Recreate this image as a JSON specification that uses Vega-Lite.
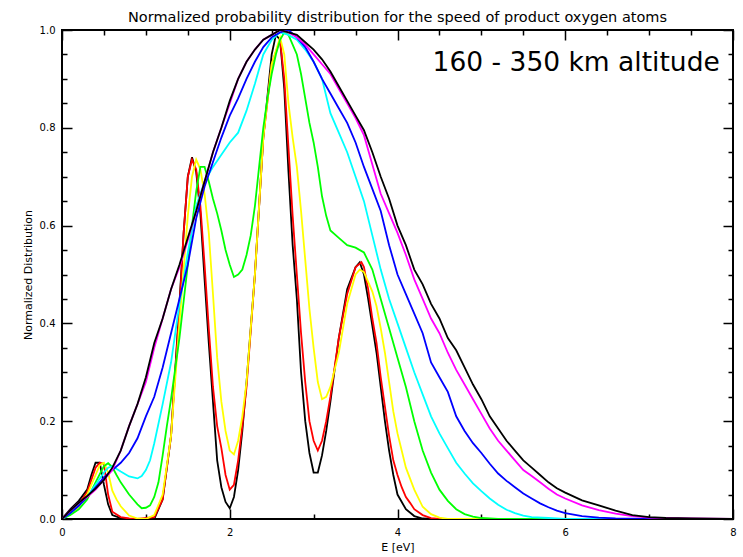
{
"$schema": "https://vega.github.io/schema/vega-lite/v6.json",
"width": 671, "height": 489,
"autosize": {"type": "none"},
"padding": {"left": 62, "top": 30, "right": 10, "bottom": 38},
"background": "white",
"title": {"text": "Normalized probability distribution for the speed of product oxygen atoms", "font": "DejaVu Sans", "fontSize": 14.5, "fontWeight": "normal", "offset": 0, "anchor": "middle", "color": "black"},
"config": {"view": {"stroke": "black", "strokeWidth": 2},
  "axis": {"labelFont": "DejaVu Sans", "labelFontSize": 10, "labelColor": "black", "titleFont": "DejaVu Sans", "titleFontSize": 11, "titleFontWeight": "normal", "titleColor": "black", "tickColor": "black", "tickWidth": 1.5, "grid": false, "domain": false}},
"resolve": {"axis": {"x": "independent", "y": "independent"}},
"layer": [
{
"data": {"values": [
{"s":"a","x":0,"y":0},{"s":"a","x":0.1,"y":0.02},{"s":"a","x":0.2,"y":0.037},{"s":"a","x":0.3,"y":0.06},{"s":"a","x":0.35,"y":0.09},{"s":"a","x":0.4,"y":0.115},{"s":"a","x":0.45,"y":0.115},{"s":"a","x":0.5,"y":0.07},{"s":"a","x":0.55,"y":0.03},{"s":"a","x":0.6,"y":0.008},{"s":"a","x":0.7,"y":0.002},{"s":"a","x":0.8,"y":0},{"s":"a","x":1.1,"y":0},{"s":"a","x":1.2,"y":0.04},{"s":"a","x":1.3,"y":0.17},{"s":"a","x":1.4,"y":0.44},{"s":"a","x":1.45,"y":0.585},{"s":"a","x":1.5,"y":0.7},{"s":"a","x":1.55,"y":0.74},{"s":"a","x":1.6,"y":0.71},{"s":"a","x":1.65,"y":0.625},{"s":"a","x":1.7,"y":0.49},{"s":"a","x":1.75,"y":0.36},{"s":"a","x":1.8,"y":0.24},{"s":"a","x":1.85,"y":0.12},{"s":"a","x":1.9,"y":0.065},{"s":"a","x":1.95,"y":0.035},{"s":"a","x":2.0,"y":0.022},{"s":"a","x":2.05,"y":0.045},{"s":"a","x":2.1,"y":0.1},{"s":"a","x":2.15,"y":0.18},{"s":"a","x":2.2,"y":0.28},{"s":"a","x":2.3,"y":0.5},{"s":"a","x":2.4,"y":0.78},{"s":"a","x":2.5,"y":0.95},{"s":"a","x":2.55,"y":0.99},{"s":"a","x":2.6,"y":0.98},{"s":"a","x":2.65,"y":0.88},{"s":"a","x":2.7,"y":0.71},{"s":"a","x":2.75,"y":0.56},{"s":"a","x":2.8,"y":0.45},{"s":"a","x":2.85,"y":0.3},{"s":"a","x":2.9,"y":0.2},{"s":"a","x":2.95,"y":0.135},{"s":"a","x":3.0,"y":0.095},{"s":"a","x":3.05,"y":0.095},{"s":"a","x":3.1,"y":0.13},{"s":"a","x":3.15,"y":0.18},{"s":"a","x":3.2,"y":0.24},{"s":"a","x":3.3,"y":0.37},{"s":"a","x":3.4,"y":0.47},{"s":"a","x":3.5,"y":0.515},{"s":"a","x":3.55,"y":0.525},{"s":"a","x":3.6,"y":0.5},{"s":"a","x":3.65,"y":0.45},{"s":"a","x":3.7,"y":0.395},{"s":"a","x":3.75,"y":0.34},{"s":"a","x":3.8,"y":0.27},{"s":"a","x":3.85,"y":0.2},{"s":"a","x":3.9,"y":0.14},{"s":"a","x":3.95,"y":0.09},{"s":"a","x":4.0,"y":0.05},{"s":"a","x":4.1,"y":0.02},{"s":"a","x":4.2,"y":0.006},{"s":"a","x":4.3,"y":0.001},{"s":"a","x":4.4,"y":0},{"s":"a","x":8,"y":0},
{"s":"b","x":0,"y":0},{"s":"b","x":0.1,"y":0.015},{"s":"b","x":0.2,"y":0.03},{"s":"b","x":0.3,"y":0.055},{"s":"b","x":0.35,"y":0.08},{"s":"b","x":0.4,"y":0.105},{"s":"b","x":0.45,"y":0.115},{"s":"b","x":0.5,"y":0.113},{"s":"b","x":0.55,"y":0.05},{"s":"b","x":0.6,"y":0.015},{"s":"b","x":0.7,"y":0.004},{"s":"b","x":0.8,"y":0.001},{"s":"b","x":0.9,"y":0},{"s":"b","x":1.1,"y":0.004},{"s":"b","x":1.2,"y":0.04},{"s":"b","x":1.3,"y":0.17},{"s":"b","x":1.4,"y":0.43},{"s":"b","x":1.45,"y":0.585},{"s":"b","x":1.5,"y":0.7},{"s":"b","x":1.55,"y":0.735},{"s":"b","x":1.6,"y":0.715},{"s":"b","x":1.65,"y":0.64},{"s":"b","x":1.7,"y":0.52},{"s":"b","x":1.75,"y":0.39},{"s":"b","x":1.8,"y":0.27},{"s":"b","x":1.85,"y":0.19},{"s":"b","x":1.9,"y":0.145},{"s":"b","x":1.95,"y":0.09},{"s":"b","x":2.0,"y":0.06},{"s":"b","x":2.05,"y":0.07},{"s":"b","x":2.1,"y":0.12},{"s":"b","x":2.15,"y":0.19},{"s":"b","x":2.2,"y":0.27},{"s":"b","x":2.3,"y":0.5},{"s":"b","x":2.4,"y":0.78},{"s":"b","x":2.5,"y":0.93},{"s":"b","x":2.6,"y":0.98},{"s":"b","x":2.65,"y":0.9},{"s":"b","x":2.7,"y":0.76},{"s":"b","x":2.75,"y":0.62},{"s":"b","x":2.8,"y":0.5},{"s":"b","x":2.85,"y":0.38},{"s":"b","x":2.9,"y":0.28},{"s":"b","x":2.95,"y":0.2},{"s":"b","x":3.0,"y":0.16},{"s":"b","x":3.05,"y":0.14},{"s":"b","x":3.1,"y":0.16},{"s":"b","x":3.15,"y":0.2},{"s":"b","x":3.2,"y":0.25},{"s":"b","x":3.3,"y":0.37},{"s":"b","x":3.4,"y":0.46},{"s":"b","x":3.5,"y":0.515},{"s":"b","x":3.57,"y":0.525},{"s":"b","x":3.6,"y":0.515},{"s":"b","x":3.65,"y":0.47},{"s":"b","x":3.7,"y":0.41},{"s":"b","x":3.75,"y":0.36},{"s":"b","x":3.8,"y":0.29},{"s":"b","x":3.85,"y":0.23},{"s":"b","x":3.9,"y":0.17},{"s":"b","x":3.95,"y":0.12},{"s":"b","x":4.0,"y":0.09},{"s":"b","x":4.05,"y":0.065},{"s":"b","x":4.1,"y":0.045},{"s":"b","x":4.15,"y":0.033},{"s":"b","x":4.2,"y":0.02},{"s":"b","x":4.3,"y":0.008},{"s":"b","x":4.4,"y":0.002},{"s":"b","x":4.5,"y":0},{"s":"b","x":8,"y":0},
{"s":"c","x":0,"y":0},{"s":"c","x":0.1,"y":0.01},{"s":"c","x":0.2,"y":0.025},{"s":"c","x":0.3,"y":0.05},{"s":"c","x":0.4,"y":0.09},{"s":"c","x":0.45,"y":0.11},{"s":"c","x":0.5,"y":0.115},{"s":"c","x":0.55,"y":0.095},{"s":"c","x":0.6,"y":0.058},{"s":"c","x":0.65,"y":0.04},{"s":"c","x":0.7,"y":0.026},{"s":"c","x":0.8,"y":0.007},{"s":"c","x":0.9,"y":0.001},{"s":"c","x":1.0,"y":0},{"s":"c","x":1.1,"y":0.008},{"s":"c","x":1.2,"y":0.05},{"s":"c","x":1.3,"y":0.17},{"s":"c","x":1.4,"y":0.4},{"s":"c","x":1.5,"y":0.62},{"s":"c","x":1.55,"y":0.7},{"s":"c","x":1.6,"y":0.735},{"s":"c","x":1.65,"y":0.715},{"s":"c","x":1.7,"y":0.665},{"s":"c","x":1.75,"y":0.585},{"s":"c","x":1.8,"y":0.46},{"s":"c","x":1.85,"y":0.33},{"s":"c","x":1.9,"y":0.24},{"s":"c","x":1.95,"y":0.18},{"s":"c","x":2.0,"y":0.14},{"s":"c","x":2.05,"y":0.132},{"s":"c","x":2.1,"y":0.16},{"s":"c","x":2.15,"y":0.21},{"s":"c","x":2.2,"y":0.28},{"s":"c","x":2.3,"y":0.5},{"s":"c","x":2.4,"y":0.78},{"s":"c","x":2.5,"y":0.93},{"s":"c","x":2.6,"y":0.985},{"s":"c","x":2.65,"y":0.95},{"s":"c","x":2.7,"y":0.85},{"s":"c","x":2.75,"y":0.78},{"s":"c","x":2.8,"y":0.72},{"s":"c","x":2.85,"y":0.63},{"s":"c","x":2.9,"y":0.53},{"s":"c","x":2.95,"y":0.43},{"s":"c","x":3.0,"y":0.35},{"s":"c","x":3.05,"y":0.28},{"s":"c","x":3.1,"y":0.245},{"s":"c","x":3.15,"y":0.25},{"s":"c","x":3.2,"y":0.27},{"s":"c","x":3.3,"y":0.34},{"s":"c","x":3.4,"y":0.44},{"s":"c","x":3.5,"y":0.5},{"s":"c","x":3.55,"y":0.51},{"s":"c","x":3.6,"y":0.505},{"s":"c","x":3.7,"y":0.465},{"s":"c","x":3.75,"y":0.435},{"s":"c","x":3.8,"y":0.39},{"s":"c","x":3.85,"y":0.34},{"s":"c","x":3.9,"y":0.28},{"s":"c","x":3.95,"y":0.22},{"s":"c","x":4.0,"y":0.175},{"s":"c","x":4.05,"y":0.14},{"s":"c","x":4.1,"y":0.105},{"s":"c","x":4.2,"y":0.06},{"s":"c","x":4.3,"y":0.025},{"s":"c","x":4.4,"y":0.01},{"s":"c","x":4.5,"y":0.003},{"s":"c","x":4.6,"y":0},{"s":"c","x":8,"y":0},
{"s":"d","x":0,"y":0},{"s":"d","x":0.1,"y":0.008},{"s":"d","x":0.2,"y":0.02},{"s":"d","x":0.3,"y":0.04},{"s":"d","x":0.4,"y":0.075},{"s":"d","x":0.5,"y":0.108},{"s":"d","x":0.55,"y":0.114},{"s":"d","x":0.6,"y":0.106},{"s":"d","x":0.65,"y":0.09},{"s":"d","x":0.7,"y":0.075},{"s":"d","x":0.8,"y":0.05},{"s":"d","x":0.9,"y":0.03},{"s":"d","x":0.95,"y":0.022},{"s":"d","x":1.0,"y":0.023},{"s":"d","x":1.05,"y":0.028},{"s":"d","x":1.1,"y":0.045},{"s":"d","x":1.15,"y":0.075},{"s":"d","x":1.2,"y":0.13},{"s":"d","x":1.25,"y":0.19},{"s":"d","x":1.3,"y":0.245},{"s":"d","x":1.4,"y":0.37},{"s":"d","x":1.5,"y":0.52},{"s":"d","x":1.55,"y":0.6},{"s":"d","x":1.6,"y":0.67},{"s":"d","x":1.65,"y":0.72},{"s":"d","x":1.7,"y":0.72},{"s":"d","x":1.75,"y":0.69},{"s":"d","x":1.8,"y":0.655},{"s":"d","x":1.85,"y":0.625},{"s":"d","x":1.9,"y":0.59},{"s":"d","x":1.95,"y":0.55},{"s":"d","x":2.0,"y":0.52},{"s":"d","x":2.05,"y":0.495},{"s":"d","x":2.1,"y":0.5},{"s":"d","x":2.15,"y":0.51},{"s":"d","x":2.2,"y":0.54},{"s":"d","x":2.25,"y":0.58},{"s":"d","x":2.3,"y":0.64},{"s":"d","x":2.35,"y":0.72},{"s":"d","x":2.4,"y":0.8},{"s":"d","x":2.45,"y":0.86},{"s":"d","x":2.5,"y":0.91},{"s":"d","x":2.55,"y":0.95},{"s":"d","x":2.6,"y":0.98},{"s":"d","x":2.65,"y":0.995},{"s":"d","x":2.7,"y":0.99},{"s":"d","x":2.75,"y":0.97},{"s":"d","x":2.8,"y":0.95},{"s":"d","x":2.85,"y":0.91},{"s":"d","x":2.9,"y":0.86},{"s":"d","x":2.95,"y":0.81},{"s":"d","x":3.0,"y":0.77},{"s":"d","x":3.05,"y":0.72},{"s":"d","x":3.1,"y":0.66},{"s":"d","x":3.15,"y":0.62},{"s":"d","x":3.2,"y":0.59},{"s":"d","x":3.3,"y":0.575},{"s":"d","x":3.4,"y":0.56},{"s":"d","x":3.5,"y":0.555},{"s":"d","x":3.6,"y":0.545},{"s":"d","x":3.7,"y":0.51},{"s":"d","x":3.75,"y":0.48},{"s":"d","x":3.8,"y":0.45},{"s":"d","x":3.9,"y":0.39},{"s":"d","x":4.0,"y":0.33},{"s":"d","x":4.1,"y":0.27},{"s":"d","x":4.2,"y":0.2},{"s":"d","x":4.3,"y":0.14},{"s":"d","x":4.4,"y":0.095},{"s":"d","x":4.5,"y":0.06},{"s":"d","x":4.6,"y":0.037},{"s":"d","x":4.7,"y":0.02},{"s":"d","x":4.8,"y":0.01},{"s":"d","x":4.9,"y":0.005},{"s":"d","x":5.0,"y":0.002},{"s":"d","x":5.2,"y":0},{"s":"d","x":8,"y":0},
{"s":"e","x":0,"y":0},{"s":"e","x":0.1,"y":0.012},{"s":"e","x":0.2,"y":0.028},{"s":"e","x":0.3,"y":0.045},{"s":"e","x":0.4,"y":0.07},{"s":"e","x":0.5,"y":0.095},{"s":"e","x":0.55,"y":0.105},{"s":"e","x":0.6,"y":0.108},{"s":"e","x":0.7,"y":0.097},{"s":"e","x":0.8,"y":0.087},{"s":"e","x":0.9,"y":0.083},{"s":"e","x":0.95,"y":0.088},{"s":"e","x":1.0,"y":0.1},{"s":"e","x":1.05,"y":0.12},{"s":"e","x":1.1,"y":0.155},{"s":"e","x":1.2,"y":0.235},{"s":"e","x":1.3,"y":0.32},{"s":"e","x":1.4,"y":0.44},{"s":"e","x":1.45,"y":0.49},{"s":"e","x":1.5,"y":0.545},{"s":"e","x":1.55,"y":0.59},{"s":"e","x":1.6,"y":0.64},{"s":"e","x":1.7,"y":0.69},{"s":"e","x":1.8,"y":0.72},{"s":"e","x":1.9,"y":0.745},{"s":"e","x":2.0,"y":0.77},{"s":"e","x":2.1,"y":0.79},{"s":"e","x":2.2,"y":0.835},{"s":"e","x":2.3,"y":0.89},{"s":"e","x":2.4,"y":0.95},{"s":"e","x":2.5,"y":0.98},{"s":"e","x":2.6,"y":0.995},{"s":"e","x":2.7,"y":0.99},{"s":"e","x":2.8,"y":0.98},{"s":"e","x":2.9,"y":0.96},{"s":"e","x":3.0,"y":0.935},{"s":"e","x":3.1,"y":0.9},{"s":"e","x":3.2,"y":0.83},{"s":"e","x":3.3,"y":0.79},{"s":"e","x":3.4,"y":0.75},{"s":"e","x":3.5,"y":0.7},{"s":"e","x":3.6,"y":0.65},{"s":"e","x":3.7,"y":0.58},{"s":"e","x":3.8,"y":0.51},{"s":"e","x":3.9,"y":0.45},{"s":"e","x":4.0,"y":0.4},{"s":"e","x":4.1,"y":0.35},{"s":"e","x":4.2,"y":0.3},{"s":"e","x":4.3,"y":0.255},{"s":"e","x":4.4,"y":0.21},{"s":"e","x":4.5,"y":0.175},{"s":"e","x":4.6,"y":0.145},{"s":"e","x":4.7,"y":0.115},{"s":"e","x":4.8,"y":0.093},{"s":"e","x":4.9,"y":0.073},{"s":"e","x":5.0,"y":0.057},{"s":"e","x":5.1,"y":0.042},{"s":"e","x":5.2,"y":0.029},{"s":"e","x":5.3,"y":0.019},{"s":"e","x":5.4,"y":0.012},{"s":"e","x":5.5,"y":0.007},{"s":"e","x":5.6,"y":0.004},{"s":"e","x":5.8,"y":0.002},{"s":"e","x":6.0,"y":0},{"s":"e","x":8,"y":0},
{"s":"f","x":0,"y":0},{"s":"f","x":0.1,"y":0.012},{"s":"f","x":0.2,"y":0.027},{"s":"f","x":0.3,"y":0.045},{"s":"f","x":0.4,"y":0.065},{"s":"f","x":0.5,"y":0.085},{"s":"f","x":0.6,"y":0.1},{"s":"f","x":0.7,"y":0.115},{"s":"f","x":0.8,"y":0.135},{"s":"f","x":0.9,"y":0.165},{"s":"f","x":1.0,"y":0.21},{"s":"f","x":1.1,"y":0.25},{"s":"f","x":1.2,"y":0.31},{"s":"f","x":1.3,"y":0.38},{"s":"f","x":1.4,"y":0.45},{"s":"f","x":1.5,"y":0.52},{"s":"f","x":1.6,"y":0.615},{"s":"f","x":1.7,"y":0.68},{"s":"f","x":1.8,"y":0.73},{"s":"f","x":1.9,"y":0.78},{"s":"f","x":2.0,"y":0.825},{"s":"f","x":2.1,"y":0.86},{"s":"f","x":2.2,"y":0.9},{"s":"f","x":2.3,"y":0.935},{"s":"f","x":2.4,"y":0.965},{"s":"f","x":2.5,"y":0.985},{"s":"f","x":2.6,"y":0.995},{"s":"f","x":2.7,"y":1.0},{"s":"f","x":2.8,"y":0.985},{"s":"f","x":2.9,"y":0.965},{"s":"f","x":3.0,"y":0.935},{"s":"f","x":3.1,"y":0.9},{"s":"f","x":3.2,"y":0.87},{"s":"f","x":3.3,"y":0.84},{"s":"f","x":3.4,"y":0.81},{"s":"f","x":3.5,"y":0.77},{"s":"f","x":3.6,"y":0.72},{"s":"f","x":3.7,"y":0.675},{"s":"f","x":3.8,"y":0.63},{"s":"f","x":3.9,"y":0.56},{"s":"f","x":4.0,"y":0.5},{"s":"f","x":4.1,"y":0.46},{"s":"f","x":4.2,"y":0.42},{"s":"f","x":4.3,"y":0.38},{"s":"f","x":4.4,"y":0.32},{"s":"f","x":4.5,"y":0.29},{"s":"f","x":4.6,"y":0.26},{"s":"f","x":4.7,"y":0.21},{"s":"f","x":4.8,"y":0.18},{"s":"f","x":4.9,"y":0.155},{"s":"f","x":5.0,"y":0.135},{"s":"f","x":5.1,"y":0.113},{"s":"f","x":5.2,"y":0.093},{"s":"f","x":5.3,"y":0.078},{"s":"f","x":5.4,"y":0.065},{"s":"f","x":5.5,"y":0.052},{"s":"f","x":5.6,"y":0.042},{"s":"f","x":5.7,"y":0.032},{"s":"f","x":5.8,"y":0.024},{"s":"f","x":5.9,"y":0.017},{"s":"f","x":6.0,"y":0.012},{"s":"f","x":6.2,"y":0.006},{"s":"f","x":6.4,"y":0.003},{"s":"f","x":6.6,"y":0.001},{"s":"f","x":7.0,"y":0},{"s":"f","x":8,"y":0},
{"s":"g","x":0,"y":0},{"s":"g","x":0.1,"y":0.018},{"s":"g","x":0.2,"y":0.033},{"s":"g","x":0.3,"y":0.045},{"s":"g","x":0.4,"y":0.06},{"s":"g","x":0.5,"y":0.08},{"s":"g","x":0.6,"y":0.1},{"s":"g","x":0.7,"y":0.14},{"s":"g","x":0.8,"y":0.19},{"s":"g","x":0.9,"y":0.235},{"s":"g","x":1.0,"y":0.28},{"s":"g","x":1.1,"y":0.35},{"s":"g","x":1.2,"y":0.41},{"s":"g","x":1.3,"y":0.47},{"s":"g","x":1.4,"y":0.515},{"s":"g","x":1.5,"y":0.57},{"s":"g","x":1.6,"y":0.63},{"s":"g","x":1.7,"y":0.69},{"s":"g","x":1.8,"y":0.75},{"s":"g","x":1.9,"y":0.8},{"s":"g","x":2.0,"y":0.85},{"s":"g","x":2.1,"y":0.9},{"s":"g","x":2.2,"y":0.935},{"s":"g","x":2.3,"y":0.96},{"s":"g","x":2.4,"y":0.98},{"s":"g","x":2.5,"y":0.99},{"s":"g","x":2.6,"y":1.0},{"s":"g","x":2.7,"y":0.995},{"s":"g","x":2.8,"y":0.985},{"s":"g","x":2.9,"y":0.97},{"s":"g","x":3.0,"y":0.95},{"s":"g","x":3.1,"y":0.93},{"s":"g","x":3.2,"y":0.91},{"s":"g","x":3.3,"y":0.88},{"s":"g","x":3.4,"y":0.85},{"s":"g","x":3.5,"y":0.82},{"s":"g","x":3.6,"y":0.785},{"s":"g","x":3.7,"y":0.725},{"s":"g","x":3.8,"y":0.665},{"s":"g","x":3.9,"y":0.625},{"s":"g","x":4.0,"y":0.585},{"s":"g","x":4.1,"y":0.54},{"s":"g","x":4.2,"y":0.49},{"s":"g","x":4.3,"y":0.45},{"s":"g","x":4.4,"y":0.41},{"s":"g","x":4.5,"y":0.38},{"s":"g","x":4.6,"y":0.34},{"s":"g","x":4.7,"y":0.305},{"s":"g","x":4.8,"y":0.275},{"s":"g","x":4.9,"y":0.245},{"s":"g","x":5.0,"y":0.215},{"s":"g","x":5.1,"y":0.185},{"s":"g","x":5.2,"y":0.16},{"s":"g","x":5.3,"y":0.14},{"s":"g","x":5.4,"y":0.12},{"s":"g","x":5.5,"y":0.1},{"s":"g","x":5.6,"y":0.088},{"s":"g","x":5.7,"y":0.075},{"s":"g","x":5.8,"y":0.062},{"s":"g","x":5.9,"y":0.05},{"s":"g","x":6.0,"y":0.042},{"s":"g","x":6.2,"y":0.028},{"s":"g","x":6.4,"y":0.018},{"s":"g","x":6.6,"y":0.011},{"s":"g","x":6.8,"y":0.006},{"s":"g","x":7.0,"y":0.003},{"s":"g","x":7.2,"y":0.002},{"s":"g","x":7.5,"y":0.001},{"s":"g","x":8,"y":0},
{"s":"h","x":0,"y":0},{"s":"h","x":0.1,"y":0.018},{"s":"h","x":0.2,"y":0.033},{"s":"h","x":0.3,"y":0.047},{"s":"h","x":0.4,"y":0.062},{"s":"h","x":0.5,"y":0.08},{"s":"h","x":0.6,"y":0.105},{"s":"h","x":0.7,"y":0.14},{"s":"h","x":0.8,"y":0.19},{"s":"h","x":0.9,"y":0.235},{"s":"h","x":1.0,"y":0.29},{"s":"h","x":1.1,"y":0.36},{"s":"h","x":1.2,"y":0.41},{"s":"h","x":1.3,"y":0.47},{"s":"h","x":1.4,"y":0.52},{"s":"h","x":1.5,"y":0.575},{"s":"h","x":1.6,"y":0.63},{"s":"h","x":1.7,"y":0.69},{"s":"h","x":1.8,"y":0.75},{"s":"h","x":1.9,"y":0.8},{"s":"h","x":2.0,"y":0.855},{"s":"h","x":2.1,"y":0.9},{"s":"h","x":2.2,"y":0.935},{"s":"h","x":2.3,"y":0.96},{"s":"h","x":2.4,"y":0.98},{"s":"h","x":2.5,"y":0.99},{"s":"h","x":2.6,"y":1.0},{"s":"h","x":2.7,"y":0.995},{"s":"h","x":2.8,"y":0.99},{"s":"h","x":2.9,"y":0.975},{"s":"h","x":3.0,"y":0.96},{"s":"h","x":3.1,"y":0.94},{"s":"h","x":3.2,"y":0.915},{"s":"h","x":3.3,"y":0.885},{"s":"h","x":3.4,"y":0.855},{"s":"h","x":3.5,"y":0.825},{"s":"h","x":3.6,"y":0.795},{"s":"h","x":3.7,"y":0.75},{"s":"h","x":3.8,"y":0.7},{"s":"h","x":3.9,"y":0.655},{"s":"h","x":4.0,"y":0.6},{"s":"h","x":4.1,"y":0.56},{"s":"h","x":4.2,"y":0.51},{"s":"h","x":4.3,"y":0.48},{"s":"h","x":4.4,"y":0.44},{"s":"h","x":4.5,"y":0.41},{"s":"h","x":4.6,"y":0.37},{"s":"h","x":4.7,"y":0.345},{"s":"h","x":4.8,"y":0.31},{"s":"h","x":4.9,"y":0.275},{"s":"h","x":5.0,"y":0.245},{"s":"h","x":5.1,"y":0.21},{"s":"h","x":5.2,"y":0.185},{"s":"h","x":5.3,"y":0.16},{"s":"h","x":5.4,"y":0.14},{"s":"h","x":5.5,"y":0.12},{"s":"h","x":5.6,"y":0.105},{"s":"h","x":5.7,"y":0.09},{"s":"h","x":5.8,"y":0.075},{"s":"h","x":5.9,"y":0.063},{"s":"h","x":6.0,"y":0.054},{"s":"h","x":6.2,"y":0.038},{"s":"h","x":6.4,"y":0.028},{"s":"h","x":6.6,"y":0.017},{"s":"h","x":6.8,"y":0.008},{"s":"h","x":7.0,"y":0.004},{"s":"h","x":7.2,"y":0.002},{"s":"h","x":7.5,"y":0.001},{"s":"h","x":8,"y":0}
]},
"mark": {"type": "line", "strokeWidth": 1.8, "clip": true},
"encoding": {
 "x": {"field": "x", "type": "quantitative", "scale": {"domain": [0, 8], "nice": false, "zero": false},
   "axis": {"orient": "bottom", "title": "E [eV]", "values": [0,0.5,1,1.5,2,2.5,3,3.5,4,4.5,5,5.5,6,6.5,7,7.5,8], "format": "d", "labelExpr": "datum.value % 2 == 0 ? datum.label : ''", "tickSize": {"condition": {"test": "datum.value % 2 == 0", "value": -10}, "value": -5}, "labelPadding": 18, "titlePadding": 4, "labelFlush": false}},
 "y": {"field": "y", "type": "quantitative", "scale": {"domain": [0, 1], "nice": false},
   "axis": {"orient": "left", "title": "Normalized Distribution", "values": [0,0.05,0.1,0.15,0.2,0.25,0.3,0.35,0.4,0.45,0.5,0.55,0.6,0.65,0.7,0.75,0.8,0.85,0.9,0.95,1], "format": ".1f", "labelExpr": "abs(datum.value*5 - round(datum.value*5)) < 0.001 ? datum.label : ''", "tickSize": {"condition": {"test": "abs(datum.value*5 - round(datum.value*5)) < 0.001", "value": -10}, "value": -5}, "labelPadding": 17, "titlePadding": 6, "labelFlush": false}},
 "color": {"field": "s", "type": "nominal", "legend": null,
   "scale": {"domain": ["a","b","c","d","e","f","g","h"], "range": ["#000000","#ff0000","#ffff00","#00ff00","#00ffff","#0000ff","#ff00ff","#000000"]}}
}
},
{
"data": {"values": [{"x": 6.13, "y": 0.932, "t": "160 - 350 km altitude"}]},
"mark": {"type": "text", "font": "DejaVu Sans", "fontSize": 26.5, "align": "center", "baseline": "middle", "color": "black"},
"encoding": {
 "x": {"field": "x", "type": "quantitative",
   "axis": {"orient": "top", "title": null, "labels": false, "values": [0,0.5,1,1.5,2,2.5,3,3.5,4,4.5,5,5.5,6,6.5,7,7.5,8], "tickSize": {"condition": {"test": "datum.value % 2 == 0", "value": -10}, "value": -5}}},
 "y": {"field": "y", "type": "quantitative",
   "axis": {"orient": "right", "title": null, "labels": false, "values": [0,0.05,0.1,0.15,0.2,0.25,0.3,0.35,0.4,0.45,0.5,0.55,0.6,0.65,0.7,0.75,0.8,0.85,0.9,0.95,1], "tickSize": {"condition": {"test": "abs(datum.value*5 - round(datum.value*5)) < 0.001", "value": -10}, "value": -5}}},
 "text": {"field": "t"}
}
}
]
}
